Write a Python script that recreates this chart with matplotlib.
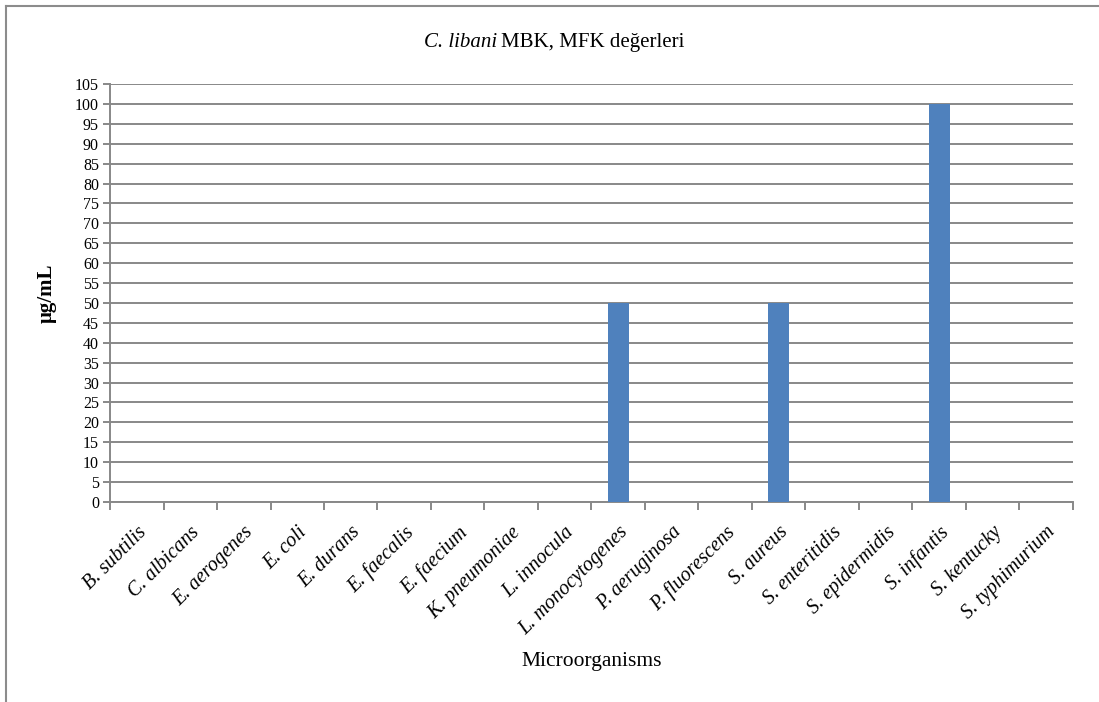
import numpy as np
import matplotlib
matplotlib.use("Agg")
import matplotlib.pyplot as plt
from matplotlib.lines import Line2D

microorganisms = ["B. subtilis", "C. albicans", "E. aerogenes", "E. coli", "E. durans",
                  "E. faecalis", "E. faecium", "K. pneumoniae", "L. innocula",
                  "L. monocytogenes", "P. aeruginosa", "P. fluorescens", "S. aureus",
                  "S. enteritidis", "S. epidermidis", "S. infantis", "S. kentucky",
                  "S. typhimurium"]
mbk_values = [0, 0, 0, 0, 0, 0, 0, 0, 0, 50, 0, 0, 50, 0, 0, 100, 0, 0]
y_ticks = list(range(0, 106, 5))

plt.rcParams['font.family'] = ['Liberation Serif', 'DejaVu Serif']

fig = plt.figure(figsize=(10.99, 7.02), dpi=100)
ax = fig.add_axes([0.1001, 0.2849, 0.8762, 0.5954])

grid_col = "#888888"
x = np.arange(len(microorganisms))
ax.bar(x, mbk_values, width=0.4, color="#4F81BD", zorder=3)

ax.set_xlim(-0.5, len(microorganisms) - 0.5)
ax.set_ylim(0, 105)
ax.set_yticks(y_ticks)
ax.set_yticklabels([str(v) for v in y_ticks], fontsize=11.5)
ax.yaxis.grid(True, color=grid_col, linewidth=1.4, zorder=0)
ax.set_axisbelow(True)

# category boundaries carry the tick marks, labels sit at the centers
ax.set_xticks(np.arange(-0.5, len(microorganisms), 1))
ax.set_xticklabels([])
ax.set_xticks(x, minor=True)
ax.set_xticklabels(microorganisms, minor=True, rotation=45, ha="right",
                   rotation_mode="anchor", fontsize=14.5, style="italic")
ax.tick_params(axis="x", which="major", length=6, width=1.4, color=grid_col, direction="out")
ax.tick_params(axis="x", which="minor", length=0, pad=15)
ax.tick_params(axis="y", length=5, width=1.4, color=grid_col, pad=3)

for side in ["top", "right"]:
    ax.spines[side].set_visible(False)
for side in ["left", "bottom"]:
    ax.spines[side].set_color(grid_col)
    ax.spines[side].set_linewidth(1.4)

ax.set_ylabel("μg/mL", fontsize=15, fontweight="bold")
ax.yaxis.set_label_coords(-0.055, 0.5)
fig.text(0.538, 0.057, "Microorganisms", ha="center", va="center", fontsize=15.5)

# title with italic species name
fig.text(0.4525, 0.940, "C. libani", ha="right", va="center", fontsize=15, style="italic")
fig.text(0.4555, 0.940, "MBK, MFK değerleri", ha="left", va="center", fontsize=15)

# outer chart frame
fig.add_artist(Line2D([6 / 1099, 6 / 1099], [0, 1 - 6 / 702], transform=fig.transFigure,
                      color="#8c8c8c", linewidth=1.5))
fig.add_artist(Line2D([6 / 1099, 1], [1 - 6 / 702, 1 - 6 / 702], transform=fig.transFigure,
                      color="#8c8c8c", linewidth=1.5))

fig.savefig("out.png", dpi=100)
